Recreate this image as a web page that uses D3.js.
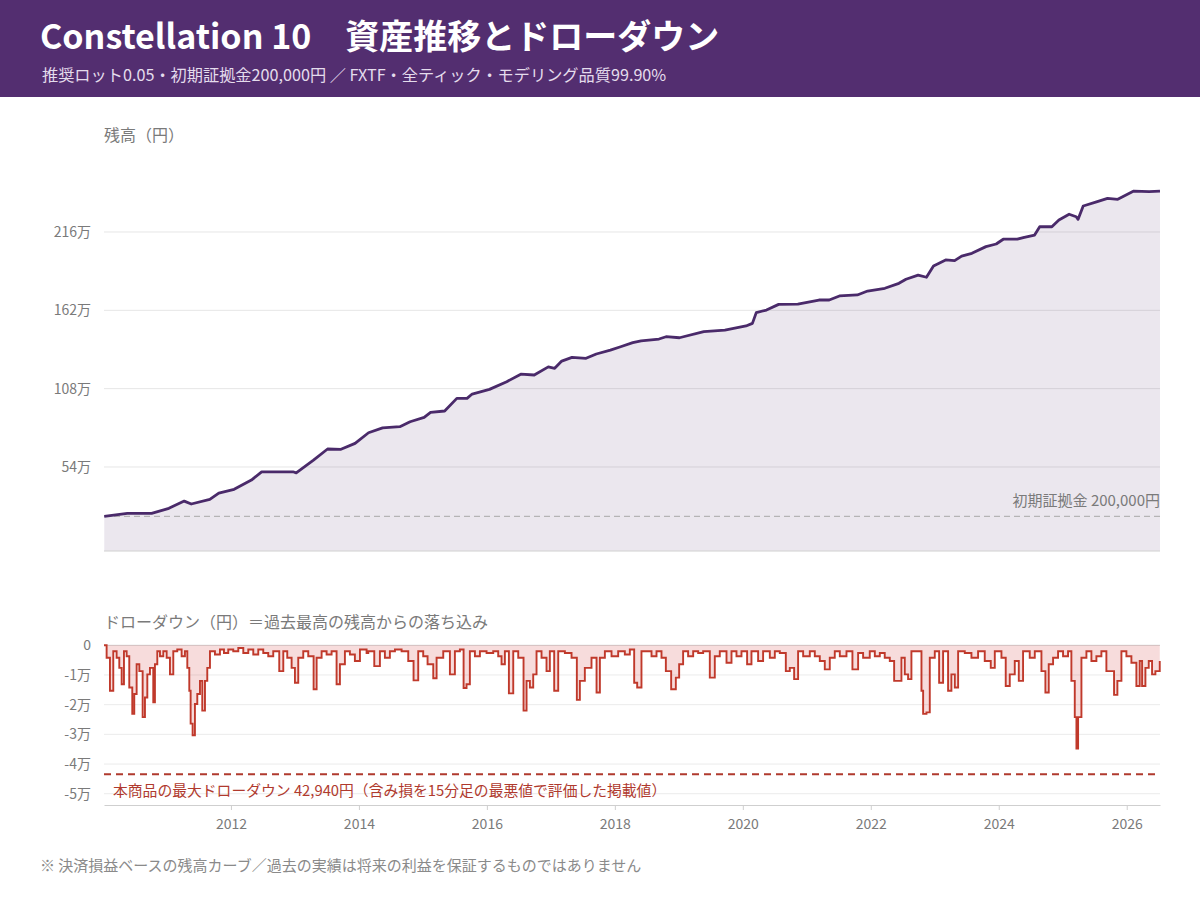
<!DOCTYPE html>
<html>
<head>
<meta charset="utf-8">
<script src="https://cdn.jsdelivr.net/npm/d3@7"></script>
<style>
  body { margin: 0; background: #fff; }
  svg { display: block; }
</style>
</head>
<body>
<div id="chart"></div>
<script>
// ---- data ----
// balance curve: time as decimal year, balance in yen
const eqYears = [2010.02, 2010.38, 2010.76, 2011.03, 2011.27, 2011.38, 2011.67, 2011.81,
  2012.05, 2012.32, 2012.48, 2012.97, 2013.02, 2013.29, 2013.51, 2013.72, 2013.94,
  2014.15, 2014.37, 2014.64, 2014.80, 2015.02, 2015.12, 2015.34, 2015.53, 2015.69, 2015.77,
  2016.04, 2016.31, 2016.53, 2016.74, 2016.96, 2017.06, 2017.17, 2017.33, 2017.55, 2017.71, 2017.93,
  2018.09, 2018.28, 2018.41, 2018.69, 2018.80, 2019.01, 2019.39, 2019.72,
  2020.05, 2020.15, 2020.21, 2020.37, 2020.56, 2020.86, 2021.19, 2021.35, 2021.51, 2021.79, 2021.95,
  2022.22, 2022.44, 2022.55, 2022.74, 2022.87, 2022.98, 2023.17, 2023.31, 2023.42, 2023.58, 2023.80, 2023.96,
  2024.07, 2024.29, 2024.40, 2024.56, 2024.64, 2024.83, 2024.94,
  2025.10, 2025.21, 2025.24, 2025.32, 2025.54, 2025.70, 2025.86, 2026.11, 2026.35, 2026.52]
const eqBalance = [200000, 220000, 220000, 255000, 305000, 285000, 317000, 360000,
  386000, 450000, 507000, 507000, 500000, 588000, 664000, 662000, 703000,
  776000, 810000, 818000, 852000, 882000, 917000, 926000, 1013000, 1013000, 1043000,
  1075000, 1128000, 1180000, 1174000, 1230000, 1220000, 1270000, 1296000, 1289000, 1319000, 1346000,
  1369000, 1397000, 1410000, 1422000, 1438000, 1431000, 1473000, 1484000,
  1512000, 1530000, 1604000, 1622000, 1661000, 1663000, 1691000, 1691000, 1719000, 1726000, 1753000,
  1772000, 1806000, 1834000, 1863000, 1848000, 1926000, 1967000, 1962000, 1994000, 2013000, 2059000, 2077000,
  2110000, 2110000, 2123000, 2139000, 2196000, 2196000, 2243000,
  2282000, 2265000, 2247000, 2339000, 2369000, 2392000, 2385000, 2442000, 2438000, 2442000]

// drawdown from the running peak, yen
const ddYears = [2010.016, 2010.057, 2010.109, 2010.161, 2010.213, 2010.255, 2010.292, 2010.328, 2010.370, 2010.411,
  2010.458, 2010.489, 2010.526, 2010.568, 2010.620, 2010.656, 2010.693, 2010.734, 2010.786, 2010.812,
  2010.849, 2010.891, 2010.943, 2010.995, 2011.047, 2011.099, 2011.161, 2011.229, 2011.281, 2011.318,
  2011.349, 2011.370, 2011.401, 2011.437, 2011.474, 2011.516, 2011.552, 2011.594, 2011.630, 2011.672,
  2011.750, 2011.828, 2011.891, 2011.958, 2012.036, 2012.115, 2012.193, 2012.271, 2012.349, 2012.427,
  2012.505, 2012.583, 2012.661, 2012.755, 2012.818, 2012.880, 2012.948, 2013.000, 2013.052, 2013.130,
  2013.208, 2013.292, 2013.339, 2013.417, 2013.495, 2013.573, 2013.651, 2013.703, 2013.781, 2013.859,
  2013.937, 2014.016, 2014.120,
  2014.146, 2014.240, 2014.328, 2014.406, 2014.484, 2014.563, 2014.667, 2014.771, 2014.854, 2014.927,
  2015.005, 2015.073, 2015.162, 2015.214, 2015.318, 2015.422, 2015.500, 2015.578, 2015.636, 2015.682,
  2015.734, 2015.813, 2015.891, 2015.995, 2016.099, 2016.177, 2016.229, 2016.281, 2016.344, 2016.412,
  2016.490, 2016.573, 2016.620, 2016.672, 2016.724, 2016.776, 2016.854, 2016.932, 2016.984, 2017.052,
  2017.115, 2017.219, 2017.323, 2017.406, 2017.453, 2017.531, 2017.635, 2017.714, 2017.766, 2017.844,
  2017.948, 2018.052, 2018.156, 2018.234, 2018.302,
  2018.349, 2018.416, 2018.494, 2018.573, 2018.651, 2018.729, 2018.797, 2018.880, 2018.953, 2019.005,
  2019.067, 2019.145, 2019.224, 2019.302, 2019.380, 2019.484, 2019.562, 2019.640, 2019.745, 2019.823,
  2019.901, 2019.979, 2020.067, 2020.135, 2020.239, 2020.317, 2020.422, 2020.500, 2020.578, 2020.672,
  2020.734, 2020.802, 2020.864, 2020.943, 2021.047, 2021.125, 2021.203, 2021.281, 2021.359, 2021.437,
  2021.516, 2021.620, 2021.713, 2021.802, 2021.880, 2021.984, 2022.063, 2022.141, 2022.218, 2022.297,
  2022.365,
  2022.427, 2022.479, 2022.531, 2022.583, 2022.635, 2022.714, 2022.792, 2022.818, 2022.870, 2022.922,
  2023.000, 2023.068, 2023.130, 2023.208, 2023.260, 2023.313, 2023.365, 2023.469, 2023.573, 2023.677,
  2023.781, 2023.875, 2023.938, 2024.042, 2024.109, 2024.172, 2024.250, 2024.313, 2024.380, 2024.484,
  2024.563, 2024.667, 2024.729, 2024.781, 2024.849, 2024.927, 2025.005, 2025.083, 2025.135, 2025.188,
  2025.214, 2025.240, 2025.292, 2025.370, 2025.448, 2025.526, 2025.604, 2025.682, 2025.750, 2025.802,
  2025.854, 2025.917, 2025.995, 2026.073, 2026.151, 2026.203, 2026.240, 2026.292, 2026.344, 2026.396,
  2026.448, 2026.516]
const ddValues = [0, -4200, -15300, -2000, -4200, -7600, -13100, -2000, -3700, -14200,
  -23100, -16400, -6400, -8700, -24200, -17600, -9800, -7600, -19200, -6400,
  -2000, -3700, -2000, -4200, -9800, -2000, -1400, -3700, -2000, -7600,
  -15300, -26400, -30300, -19800, -16400, -12000, -22000, -12000, -7600, -2000,
  -3100, -1400, -2600, -1400, -2000, -900, -2600, -1400, -3100, -1400,
  -2600, -3700, -2000, -8700, -2000, -4200, -7600, -12600, -4200, -2000,
  -3700, -14800, -4200, -2000, -3100, -2000, -13100, -6400, -2000, -3100,
  -5300, -1400, -2600,
  -2000, -7000, -2000, -4200, -2000, -1400, -2000, -5300, -11800, -2000,
  -3700, -6400, -11100, -4200, -2000, -9800, -2000, -1400, -14400, -13100,
  -2000, -3700, -2000, -2600, -2000, -3700, -6400, -2000, -16200, -2000,
  -4200, -22000, -12000, -14200, -9800, -2000, -4200, -8700, -2000, -15300,
  -2000, -2600, -4200, -18400, -12000, -7600, -4200, -15900, -4200, -2000,
  -3700, -2000, -3100, -1400, -12600,
  -14200, -2000, -2000, -3700, -2000, -4200, -8700, -14800, -10900, -6400,
  -2000, -3700, -2000, -2600, -2000, -10900, -3700, -2000, -5900, -2000,
  -3700, -2000, -6400, -2000, -5300, -2000, -4200, -2000, -2600, -8700,
  -7600, -11400, -2000, -3700, -2000, -3700, -5300, -8100, -4200, -2000,
  -3700, -2000, -8100, -2600, -4200, -2000, -3700, -2600, -4200, -5300,
  -12000,
  -12000, -4200, -9800, -11400, -2000, -2000, -15300, -23100, -22600, -4200,
  -2000, -12600, -2000, -15300, -9800, -14200, -2000, -2600, -4200, -2000,
  -5300, -7600, -2000, -4200, -13700, -9800, -5300, -12000, -2000, -4200,
  -2000, -8700, -15900, -6400, -4200, -2000, -3700, -2000, -12000, -24200,
  -34800, -24200, -4200, -2000, -5300, -3700, -2000, -8700, -8700, -16700,
  -12000, -2000, -3700, -5900, -13700, -5300, -13700, -7600, -5300, -9800,
  -8700, -5300]

const INITIAL_MARGIN = 200000
const MAX_DD = 42940
const eqTicks = [540000, 1080000, 1620000, 2160000]
const ddTicks = [0, -10000, -20000, -30000, -40000, -50000]
const yearTicks = [2012, 2014, 2016, 2018, 2020, 2022, 2024, 2026]

// ---- layout ----
const WIDTH = 1200, HEIGHT = 900
const X0 = 104, X1 = 1160
const EQ = {TOP: 150, BOTTOM: 551}
const DD = {TOP: 645.3, BOTTOM: 805}
const JP = '"Noto Sans CJK JP", "Noto Sans", sans-serif'
const GREY = "#7a7a7a"

const equity = eqYears.map((t, i) => ({t, v: eqBalance[i]}))
const drawdown = ddYears.map((t, i) => ({t, v: ddValues[i]}))

const svg = d3.select("#chart").append("svg")
  .attr("width", WIDTH)
  .attr("height", HEIGHT)
  .style("font-family", JP)

// header band
svg.append("rect")
  .attr("width", WIDTH).attr("height", 97)
  .attr("fill", "#532e70")
svg.append("text")
  .attr("x", 40).attr("y", 49)
  .attr("fill", "#fff")
  .attr("font-size", 34).attr("font-weight", 700)
  .text("Constellation 10\u3000資産推移とドローダウン")
svg.append("text")
  .attr("x", 42).attr("y", 81)
  .attr("fill", "#e4dcec")
  .attr("font-size", 16.2)
  .text("推奨ロット0.05・初期証拠金200,000円 ／ FXTF・全ティック・モデリング品質99.90%")

// scales
const x = d3.scaleLinear()
  .domain([2010.016, 2026.52])
  .range([X0, X1])

const yEq = d3.scaleLinear()
  .domain([-39000, 2725000])
  .range([EQ.BOTTOM, EQ.TOP])

const yDd = d3.scaleLinear()
  .domain([-53800, 0])
  .range([DD.BOTTOM, DD.TOP])

// -------------------
// BALANCE
// -------------------
svg.append("text")
  .attr("x", X0).attr("y", 141)
  .attr("fill", GREY).attr("font-size", 16)
  .text("残高（円）")

svg.append("g").selectAll("line")
  .data(eqTicks)
  .enter().append("line")
  .attr("x1", X0).attr("x2", X1)
  .attr("y1", d => yEq(d)).attr("y2", d => yEq(d))
  .attr("stroke", "#e6e6e6")

const eqAxis = svg.append("g")
  .attr("transform", `translate(${X0}, 0)`)
  .call(d3.axisLeft(yEq).tickValues(eqTicks).tickSize(0).tickPadding(13)
    .tickFormat(d => (d / 10000) + "万"))
eqAxis.select(".domain").remove()
eqAxis.selectAll("text").attr("fill", GREY).attr("font-size", 14).style("font-family", JP)

svg.append("path")
  .datum(equity)
  .attr("fill", "#4b2a6b")
  .attr("fill-opacity", 0.115)
  .attr("d", d3.area().x(d => x(d.t)).y0(EQ.BOTTOM).y1(d => yEq(d.v)))

// initial margin reference
svg.append("line")
  .attr("x1", X0).attr("x2", X1)
  .attr("y1", yEq(INITIAL_MARGIN)).attr("y2", yEq(INITIAL_MARGIN))
  .attr("stroke", "#a9a9a9").attr("stroke-dasharray", "6,4")
svg.append("text")
  .attr("x", X1).attr("y", yEq(INITIAL_MARGIN) - 10)
  .attr("text-anchor", "end")
  .attr("fill", GREY).attr("font-size", 15)
  .text("初期証拠金 200,000円")

svg.append("path")
  .datum(equity)
  .attr("fill", "none")
  .attr("stroke", "#4a2a6a")
  .attr("stroke-width", 2.8)
  .attr("stroke-linejoin", "round")
  .attr("d", d3.line().x(d => x(d.t)).y(d => yEq(d.v)))

svg.append("line")
  .attr("x1", X0).attr("x2", X1)
  .attr("y1", EQ.BOTTOM).attr("y2", EQ.BOTTOM)
  .attr("stroke", "#d0d0d0")

// -------------------
// DRAWDOWN
// -------------------
svg.append("text")
  .attr("x", X0).attr("y", 628)
  .attr("fill", GREY).attr("font-size", 16)
  .text("ドローダウン（円）＝過去最高の残高からの落ち込み")

svg.append("g").selectAll("line")
  .data(ddTicks)
  .enter().append("line")
  .attr("x1", X0).attr("x2", X1)
  .attr("y1", d => yDd(d)).attr("y2", d => yDd(d))
  .attr("stroke", d => d === 0 ? "#cfcfcf" : "#ebebeb")

const ddAxis = svg.append("g")
  .attr("transform", `translate(${X0}, 0)`)
  .call(d3.axisLeft(yDd).tickValues(ddTicks).tickSize(0).tickPadding(13)
    .tickFormat(d => d === 0 ? "0" : (d / 10000) + "万"))
ddAxis.select(".domain").remove()
ddAxis.selectAll("text").attr("fill", GREY).attr("font-size", 14).style("font-family", JP)

// step shape: each reading holds until the next one
svg.append("path")
  .datum(drawdown)
  .attr("fill", "#d0312d")
  .attr("fill-opacity", 0.17)
  .attr("d", d3.area().curve(d3.curveStepAfter)
    .x(d => x(d.t)).y0(yDd(0)).y1(d => yDd(d.v)))

svg.append("path")
  .datum(drawdown)
  .attr("fill", "none")
  .attr("stroke", "#c0392b")
  .attr("stroke-width", 1.9)
  .attr("d", d3.line().curve(d3.curveStepAfter)
    .x(d => x(d.t)).y(d => yDd(d.v)))

// stated maximum drawdown
svg.append("line")
  .attr("x1", X0).attr("x2", X1)
  .attr("y1", yDd(-MAX_DD) + 1.5).attr("y2", yDd(-MAX_DD) + 1.5)
  .attr("stroke", "#b03a2e").attr("stroke-width", 2)
  .attr("stroke-dasharray", "7,5")
svg.append("text")
  .attr("x", 113).attr("y", 796)
  .attr("fill", "#b03a2e").attr("font-size", 14.8)
  .text("本商品の最大ドローダウン 42,940円（含み損を15分足の最悪値で評価した掲載値）")

// x axis
const xAxis = svg.append("g")
  .attr("transform", `translate(0, ${DD.BOTTOM})`)
  .call(d3.axisBottom(x).tickValues(yearTicks).tickSizeInner(5).tickSizeOuter(0)
    .tickPadding(9).tickFormat(d3.format("d")))
xAxis.select(".domain").attr("stroke", "#cfcfcf")
xAxis.selectAll(".tick line").attr("stroke", "#cfcfcf")
xAxis.selectAll("text").attr("fill", GREY).attr("font-size", 14).style("font-family", JP)

// footnote
svg.append("text")
  .attr("x", 40).attr("y", 871)
  .attr("fill", "#8a8a8a").attr("font-size", 15)
  .text("※ 決済損益ベースの残高カーブ／過去の実績は将来の利益を保証するものではありません")
</script>
</body>
</html>
